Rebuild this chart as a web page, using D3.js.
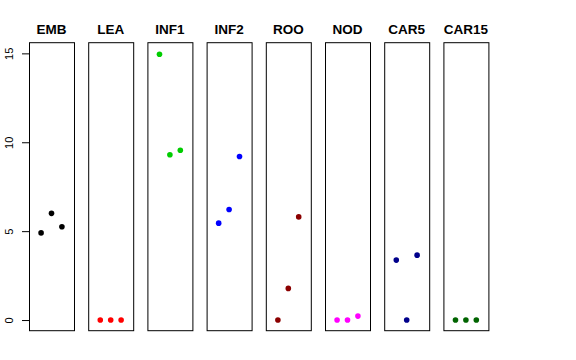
<!DOCTYPE html>
<html>
<head>
<meta charset="utf-8">
<script src="https://cdn.jsdelivr.net/npm/d3@7"></script>
<style>
html,body{margin:0;padding:0;background:#fff;}
svg{display:block;}
</style>
</head>
<body>
<svg id="chart" width="576" height="360"></svg>
<script>
const categories = ["EMB","LEA","INF1","INF2","ROO","NOD","CAR5","CAR15"];
const colors = ["#000000","#FF0000","#00CD00","#0000FF","#8B0000","#FF00FF","#00008B","#006400"];
const values = [
  [4.9, 6.0, 5.25],
  [0, 0, 0],
  [14.95, 9.3, 9.55],
  [5.45, 6.22, 9.2],
  [0, 1.78, 5.8],
  [0, 0, 0.22],
  [3.37, 0, 3.65],
  [0, 0, 0]
];
const yTicks = [0, 5, 10, 15];
const reps = [1, 2, 3];

const svg = d3.select("#chart");
const yMin = 0, yMax = 15, ext = (yMax - yMin) * 0.04;
const y = d3.scaleLinear().domain([yMin - ext, yMax + ext]).range([330.7, 42.7]);
const panel = d3.scaleBand().domain(categories).range([29, 488.4]).paddingInner(0.24).paddingOuter(0);
const xIn = d3.scaleLinear().domain([-0.16, 4.16]).range([0, panel.bandwidth()]);

// y axis
const axis = svg.append("g").attr("transform", "translate(29,0)")
  .call(d3.axisLeft(y).tickValues(yTicks).tickSize(7).tickPadding(4).tickFormat(d3.format("d")));
axis.select(".domain").remove();
axis.selectAll(".tick line").attr("stroke", "#000");
axis.selectAll(".tick text")
  .attr("font-family", "Liberation Sans, Arial, sans-serif")
  .attr("font-size", 11)
  .attr("fill", "#000")
  .attr("transform", "rotate(-90)")
  .attr("x", 0).attr("y", -16)
  .attr("dy", 0)
  .attr("text-anchor", "middle");

categories.forEach((c, i) => {
  const g = svg.append("g").attr("transform", `translate(${panel(c)},0)`);
  g.append("rect")
    .attr("x", 0.5).attr("y", y(yMax + ext))
    .attr("width", panel.bandwidth()).attr("height", y(yMin - ext) - y(yMax + ext))
    .attr("fill", "none").attr("stroke", "#000").attr("stroke-width", 1);
  g.append("text")
    .attr("x", panel.bandwidth() / 2).attr("y", 34)
    .attr("text-anchor", "middle")
    .attr("font-family", "Liberation Sans, Arial, sans-serif")
    .attr("font-weight", "bold").attr("font-size", 13.5)
    .text(c);
  g.selectAll("circle").data(values[i]).join("circle")
    .attr("cx", (d, j) => xIn(reps[j]))
    .attr("cy", d => y(d))
    .attr("r", 2.8)
    .attr("fill", colors[i]);
});
</script>
</body>
</html>
